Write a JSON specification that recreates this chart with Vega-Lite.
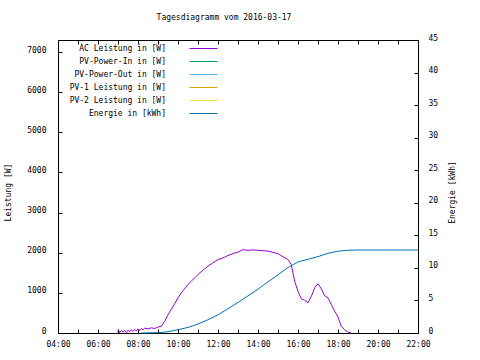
{
  "$schema": "https://vega.github.io/schema/vega-lite/v6.json",
  "width": 360,
  "height": 293,
  "autosize": {"type": "none"},
  "padding": {"left": 58, "top": 40, "right": 62, "bottom": 27},
  "background": "white",
  "title": {"text": "Tagesdiagramm vom 2016-03-17", "font": "DejaVu Sans Mono", "fontSize": 8, "fontWeight": "normal", "color": "black", "anchor": "middle", "baseline": "bottom", "offset": 4, "dx": -14},
  "config": {
    "view": {"stroke": "black", "strokeWidth": 1},
    "axis": {"labelFont": "DejaVu Sans Mono", "labelFontSize": 8, "labelColor": "black", "titleFont": "DejaVu Sans Mono", "titleFontSize": 8, "titleFontWeight": "normal", "titleColor": "black", "domain": false, "grid": false, "tickColor": "black", "tickSize": -4, "tickWidth": 1, "labelOverlap": false}
  },
  "datasets": {
    "ac": [
      {"t": "2016-03-17T06:57:00", "w": 40}, {"t": "2016-03-17T07:02:00", "w": 70}, {"t": "2016-03-17T07:05:00", "w": 10},
      {"t": "2016-03-17T07:10:00", "w": 60}, {"t": "2016-03-17T07:15:00", "w": 20}, {"t": "2016-03-17T07:20:00", "w": 60},
      {"t": "2016-03-17T07:25:00", "w": 10}, {"t": "2016-03-17T07:30:00", "w": 70}, {"t": "2016-03-17T07:35:00", "w": 30},
      {"t": "2016-03-17T07:40:00", "w": 80}, {"t": "2016-03-17T07:45:00", "w": 40}, {"t": "2016-03-17T07:50:00", "w": 90},
      {"t": "2016-03-17T07:55:00", "w": 50}, {"t": "2016-03-17T08:00:00", "w": 100}, {"t": "2016-03-17T08:05:00", "w": 60},
      {"t": "2016-03-17T08:10:00", "w": 110}, {"t": "2016-03-17T08:15:00", "w": 80}, {"t": "2016-03-17T08:20:00", "w": 120},
      {"t": "2016-03-17T08:30:00", "w": 100}, {"t": "2016-03-17T08:40:00", "w": 130}, {"t": "2016-03-17T08:50:00", "w": 110},
      {"t": "2016-03-17T09:00:00", "w": 150}, {"t": "2016-03-17T09:10:00", "w": 165}, {"t": "2016-03-17T09:20:00", "w": 290},
      {"t": "2016-03-17T09:30:00", "w": 455}, {"t": "2016-03-17T09:40:00", "w": 590}, {"t": "2016-03-17T09:50:00", "w": 730},
      {"t": "2016-03-17T10:00:00", "w": 875}, {"t": "2016-03-17T10:10:00", "w": 1000}, {"t": "2016-03-17T10:20:00", "w": 1100},
      {"t": "2016-03-17T10:30:00", "w": 1210}, {"t": "2016-03-17T10:40:00", "w": 1290}, {"t": "2016-03-17T10:50:00", "w": 1375},
      {"t": "2016-03-17T11:00:00", "w": 1460}, {"t": "2016-03-17T11:15:00", "w": 1565}, {"t": "2016-03-17T11:30:00", "w": 1665},
      {"t": "2016-03-17T11:45:00", "w": 1750}, {"t": "2016-03-17T12:00:00", "w": 1830}, {"t": "2016-03-17T12:15:00", "w": 1870},
      {"t": "2016-03-17T12:30:00", "w": 1930}, {"t": "2016-03-17T12:45:00", "w": 1980}, {"t": "2016-03-17T13:00:00", "w": 2015},
      {"t": "2016-03-17T13:15:00", "w": 2075}, {"t": "2016-03-17T13:30:00", "w": 2060}, {"t": "2016-03-17T13:45:00", "w": 2070},
      {"t": "2016-03-17T14:00:00", "w": 2060}, {"t": "2016-03-17T14:15:00", "w": 2050}, {"t": "2016-03-17T14:30:00", "w": 2040},
      {"t": "2016-03-17T14:45:00", "w": 2010}, {"t": "2016-03-17T15:00:00", "w": 1975}, {"t": "2016-03-17T15:15:00", "w": 1900},
      {"t": "2016-03-17T15:30:00", "w": 1830}, {"t": "2016-03-17T15:40:00", "w": 1700}, {"t": "2016-03-17T15:50:00", "w": 1290},
      {"t": "2016-03-17T16:00:00", "w": 1040}, {"t": "2016-03-17T16:10:00", "w": 850}, {"t": "2016-03-17T16:20:00", "w": 815},
      {"t": "2016-03-17T16:30:00", "w": 750}, {"t": "2016-03-17T16:40:00", "w": 915}, {"t": "2016-03-17T16:50:00", "w": 1125},
      {"t": "2016-03-17T17:00:00", "w": 1225}, {"t": "2016-03-17T17:10:00", "w": 1100}, {"t": "2016-03-17T17:20:00", "w": 930},
      {"t": "2016-03-17T17:30:00", "w": 875}, {"t": "2016-03-17T17:40:00", "w": 710}, {"t": "2016-03-17T17:50:00", "w": 540},
      {"t": "2016-03-17T18:00:00", "w": 400}, {"t": "2016-03-17T18:10:00", "w": 165}, {"t": "2016-03-17T18:20:00", "w": 80},
      {"t": "2016-03-17T18:30:00", "w": 20}, {"t": "2016-03-17T18:40:00", "w": 0}
    ],
    "energy": [
      {"t": "2016-03-17T08:10:00", "e": 0}, {"t": "2016-03-17T09:00:00", "e": 0.05}, {"t": "2016-03-17T09:15:00", "e": 0.1},
      {"t": "2016-03-17T09:30:00", "e": 0.2}, {"t": "2016-03-17T10:00:00", "e": 0.5}, {"t": "2016-03-17T10:30:00", "e": 0.86},
      {"t": "2016-03-17T11:00:00", "e": 1.38}, {"t": "2016-03-17T11:30:00", "e": 2.04}, {"t": "2016-03-17T12:00:00", "e": 2.8},
      {"t": "2016-03-17T12:30:00", "e": 3.72}, {"t": "2016-03-17T13:00:00", "e": 4.69}, {"t": "2016-03-17T13:30:00", "e": 5.71},
      {"t": "2016-03-17T14:00:00", "e": 6.74}, {"t": "2016-03-17T14:30:00", "e": 7.86}, {"t": "2016-03-17T15:00:00", "e": 8.93},
      {"t": "2016-03-17T15:30:00", "e": 10.05}, {"t": "2016-03-17T16:00:00", "e": 10.92}, {"t": "2016-03-17T16:30:00", "e": 11.33},
      {"t": "2016-03-17T17:00:00", "e": 11.73}, {"t": "2016-03-17T17:30:00", "e": 12.25}, {"t": "2016-03-17T18:00:00", "e": 12.56},
      {"t": "2016-03-17T18:30:00", "e": 12.71}, {"t": "2016-03-17T19:00:00", "e": 12.75}, {"t": "2016-03-17T22:00:00", "e": 12.75}
    ]
  },
  "layer": [
    {
      "data": {"name": "ac"},
      "mark": {"type": "line", "strokeWidth": 1},
      "encoding": {
        "x": {"field": "t", "type": "temporal",
          "scale": {"domain": ["2016-03-17T04:00:00", "2016-03-17T22:00:00"]},
          "axis": {"title": null, "orient": "bottom", "format": "%H:%M",
            "values": [
              {"year": 2016, "month": 3, "date": 17, "hours": 4}, {"year": 2016, "month": 3, "date": 17, "hours": 5},
              {"year": 2016, "month": 3, "date": 17, "hours": 6}, {"year": 2016, "month": 3, "date": 17, "hours": 7},
              {"year": 2016, "month": 3, "date": 17, "hours": 8}, {"year": 2016, "month": 3, "date": 17, "hours": 9},
              {"year": 2016, "month": 3, "date": 17, "hours": 10}, {"year": 2016, "month": 3, "date": 17, "hours": 11},
              {"year": 2016, "month": 3, "date": 17, "hours": 12}, {"year": 2016, "month": 3, "date": 17, "hours": 13},
              {"year": 2016, "month": 3, "date": 17, "hours": 14}, {"year": 2016, "month": 3, "date": 17, "hours": 15},
              {"year": 2016, "month": 3, "date": 17, "hours": 16}, {"year": 2016, "month": 3, "date": 17, "hours": 17},
              {"year": 2016, "month": 3, "date": 17, "hours": 18}, {"year": 2016, "month": 3, "date": 17, "hours": 19},
              {"year": 2016, "month": 3, "date": 17, "hours": 20}, {"year": 2016, "month": 3, "date": 17, "hours": 21},
              {"year": 2016, "month": 3, "date": 17, "hours": 22}],
            "labelExpr": "round(datum.index * 18) % 2 == 0 ? datum.label : ''",
            "labelPadding": 11, "labelFlush": false, "labelOverlap": false}},
        "y": {"field": "w", "type": "quantitative",
          "scale": {"domain": [0, 7300], "nice": false},
          "axis": {"title": "Leistung [W]", "values": [0, 1000, 2000, 3000, 4000, 5000, 6000, 7000], "format": "d", "labelPadding": 16, "labelOffset": -2, "titleX": -50, "titleY": 152, "titleAngle": -90, "titleAlign": "center", "titleBaseline": "middle"}},
        "color": {"datum": "AC Leistung in [W]", "type": "nominal",
          "scale": {"domain": ["AC Leistung in [W]", "PV-Power-In in [W]", "PV-Power-Out in [W]", "PV-1 Leistung in [W]", "PV-2 Leistung in [W]", "Energie in [kWh]"],
                    "range": ["#9400d3", "#009e73", "#56b4e9", "#e69f00", "#f0e442", "#0072b2"]},
          "legend": {"orient": "none", "legendX": 141, "legendY": 4, "title": null, "direction": "vertical", "symbolType": "M-3.5,0H3.5", "symbolSize": 64, "symbolStrokeWidth": 1, "labelAlign": "right", "labelOffset": -42, "labelFont": "DejaVu Sans Mono", "labelFontSize": 8, "labelColor": "black", "rowPadding": 4, "labelLimit": 0, "padding": 0}}
      }
    },
    {
      "data": {"name": "energy"},
      "mark": {"type": "line", "strokeWidth": 1},
      "encoding": {
        "x": {"field": "t", "type": "temporal",
          "axis": {"title": null, "orient": "top", "labels": false,
            "values": [
              {"year": 2016, "month": 3, "date": 17, "hours": 4}, {"year": 2016, "month": 3, "date": 17, "hours": 5},
              {"year": 2016, "month": 3, "date": 17, "hours": 6}, {"year": 2016, "month": 3, "date": 17, "hours": 7},
              {"year": 2016, "month": 3, "date": 17, "hours": 8}, {"year": 2016, "month": 3, "date": 17, "hours": 9},
              {"year": 2016, "month": 3, "date": 17, "hours": 10}, {"year": 2016, "month": 3, "date": 17, "hours": 11},
              {"year": 2016, "month": 3, "date": 17, "hours": 12}, {"year": 2016, "month": 3, "date": 17, "hours": 13},
              {"year": 2016, "month": 3, "date": 17, "hours": 14}, {"year": 2016, "month": 3, "date": 17, "hours": 15},
              {"year": 2016, "month": 3, "date": 17, "hours": 16}, {"year": 2016, "month": 3, "date": 17, "hours": 17},
              {"year": 2016, "month": 3, "date": 17, "hours": 18}, {"year": 2016, "month": 3, "date": 17, "hours": 19},
              {"year": 2016, "month": 3, "date": 17, "hours": 20}, {"year": 2016, "month": 3, "date": 17, "hours": 21},
              {"year": 2016, "month": 3, "date": 17, "hours": 22}]}},
        "y": {"field": "e", "type": "quantitative",
          "scale": {"domain": [0, 45], "nice": false},
          "axis": {"title": "Energie [kWh]", "orient": "right", "values": [0, 5, 10, 15, 20, 25, 30, 35, 40, 45], "labelPadding": 14, "labelOffset": -2, "titleX": 34, "titleY": 152, "titleAngle": -90, "titleAlign": "center", "titleBaseline": "middle"}},
        "color": {"datum": "Energie in [kWh]", "type": "nominal"}
      }
    }
  ],
  "resolve": {"scale": {"y": "independent"}, "axis": {"x": "independent"}}
}
